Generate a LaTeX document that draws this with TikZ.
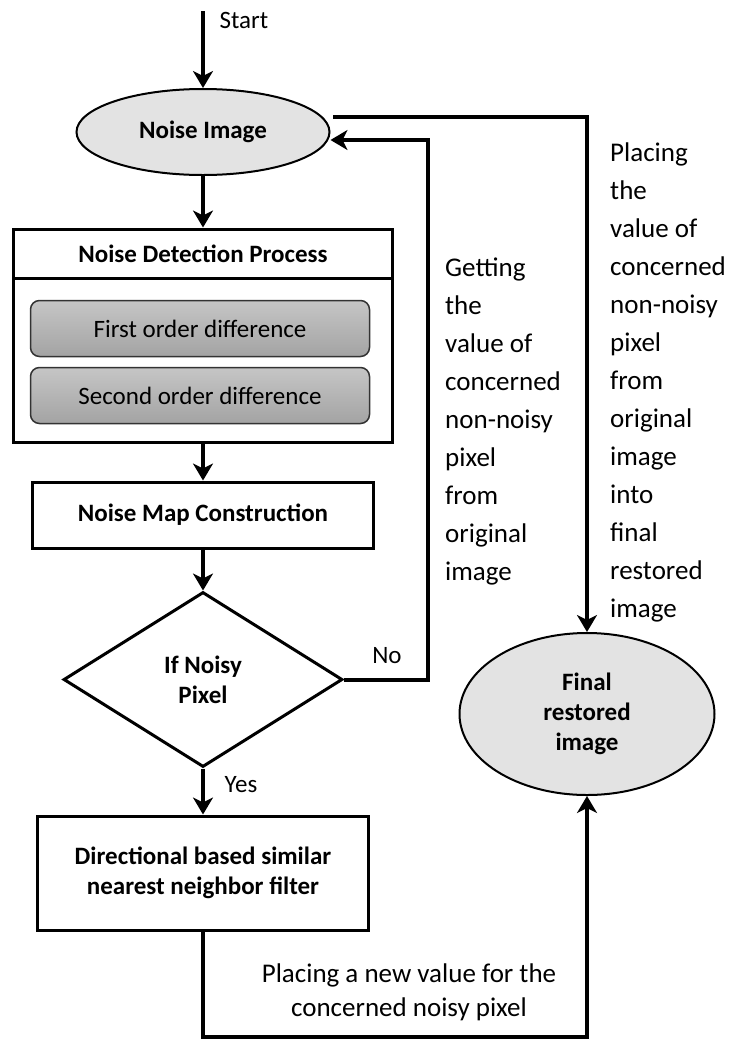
\documentclass[tikz,border=0pt]{standalone}
\usepackage{fontspec}
\setmainfont{Carlito}
\usetikzlibrary{shapes.geometric,arrows.meta,calc}
\begin{document}
\begin{tikzpicture}[x=1pt,y=-1pt,
  arr/.style={line width=4pt,-{Stealth[length=17pt,width=20pt,inset=5pt]}},
  boxtxt/.style={font=\fontsize{25}{30}\selectfont\bfseries, align=center},
  lbl/.style={font=\fontsize{27}{38}\selectfont, align=left, inner sep=0pt, anchor=north west},
  small/.style={font=\fontsize{25}{30}\selectfont, inner sep=0pt, anchor=base},
  procbox/.style={draw, line width=3pt, rectangle, boxtxt},
  ell/.style={draw, ellipse, line width=2pt, fill=gray!22, boxtxt, inner sep=0pt},
  grad/.style={draw=gray!40!black, line width=1.5pt, rounded corners=9pt, top color=gray!45, bottom color=gray!72, font=\fontsize{25}{30}\selectfont, minimum width=339pt, minimum height=56pt}
]
\useasboundingbox (0,0) rectangle (732,1042);

% nodes
\node[small] (start) at (244,28) {Start};
\coordinate (s0) at (203,11);
\node[ell, minimum width=253pt, minimum height=86pt] (noise) at (203,132) {Noise Image};
\node[draw, line width=3pt, minimum width=379pt, minimum height=213pt] (ndp) at (203,335.5) {};
\node[procbox, minimum width=379pt, minimum height=49pt] (ndpt) at (203,253.5) {Noise Detection Process};
\node[grad] (fod) at (200,328.5) {First order difference};
\node[grad] (sod) at (200,395.5) {Second order difference};
\node[procbox, minimum width=341pt, minimum height=66pt] (nmc) at (203,515) {Noise Map Construction};
\node[draw, diamond, line width=3pt, minimum width=279pt, minimum height=175pt, boxtxt, inner sep=0pt] (dec) at (203,679.5) {If Noisy\\Pixel};
\node[procbox, minimum width=331pt, minimum height=114pt] (dir) at (203,873) {Directional based similar\\nearest neighbor filter};
\node[ell, minimum width=255pt, minimum height=162pt] (fin) at (587,714) {Final\\restored\\image};

% labels
\node[small] (nolbl) at (387,663) {No};
\node[small] (yeslbl) at (241,792) {Yes};
\node[lbl] (getlbl) at (445,258) {Getting\\the\\value of\\concerned\\non-noisy\\pixel\\from\\original\\image};
\node[lbl] (placelbl) at (610,143) {Placing\\the\\value of\\concerned\\non-noisy\\pixel\\from\\original\\image\\into\\final\\restored\\image};
\node[font=\fontsize{27}{34}\selectfont, align=center, inner sep=0pt, anchor=north] (newlbl) at (409,964) {Placing a new value for the\\concerned noisy pixel};

% connectors
\coordinate (nocorner) at (428,140);
\coordinate (topstart) at (333,117);
\coordinate (bot) at (0,1037);
\draw[arr] (s0) -- (noise.north);
\draw[arr] (noise.south) -- (ndpt.north);
\draw[arr] (ndp.south) -- (nmc.north);
\draw[arr] (nmc.south) -- (dec.north);
\draw[arr] (dec.south) -- (dir.north);
\draw[arr] (dec.east) -| (nocorner) -- (noise.east |- nocorner);
\draw[arr] (topstart) -| (fin.north);
\draw[arr] (dir.south) -- (dir.south |- bot) -| (fin.south);
\end{tikzpicture}
\end{document}
